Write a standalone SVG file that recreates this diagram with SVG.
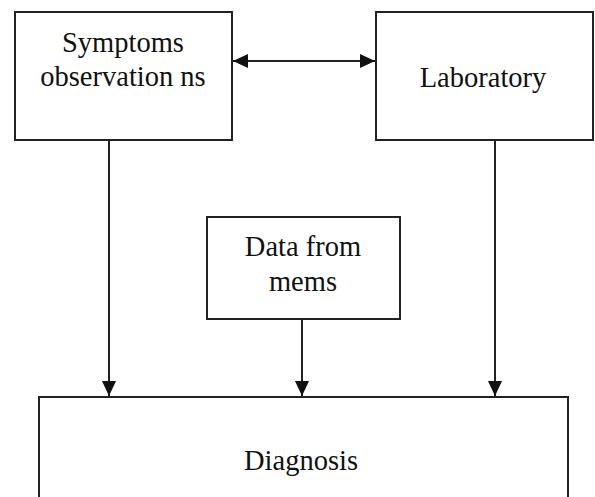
<svg xmlns="http://www.w3.org/2000/svg" width="595" height="497" viewBox="0 0 595 497">
<style>
.box{fill:#fff;stroke:#222;stroke-width:2}
.lbl{font-family:'Liberation Serif','Times New Roman','DejaVu Serif',serif;font-size:28.5px;fill:#111;text-anchor:middle}
.con{stroke:#222;stroke-width:2;fill:none}
</style>
<defs>
<marker id="ah" markerUnits="userSpaceOnUse" markerWidth="16" markerHeight="14" refX="15" refY="7" orient="auto-start-reverse">
<path d="M0,0 L15,7 L0,14 Z" fill="#111"/>
</marker>
</defs>
<rect width="595" height="497" fill="#fff"/>
<g id="symptoms">
<rect class="box" x="15" y="12" width="217" height="128"/>
<text class="lbl" x="123" y="52">Symptoms</text>
<text class="lbl" x="123" y="86">observation ns</text>
</g>
<g id="laboratory">
<rect class="box" x="376" y="12" width="217" height="128"/>
<text class="lbl" x="483" y="87">Laboratory</text>
</g>
<g id="data">
<rect class="box" x="207" y="217" width="193" height="102"/>
<text class="lbl" x="303" y="256">Data from</text>
<text class="lbl" x="303" y="291">mems</text>
</g>
<g id="diagnosis">
<rect class="box" x="39" y="397" width="529" height="110"/>
<text class="lbl" x="301" y="470">Diagnosis</text>
</g>
<g id="connectors">
<line class="con" x1="233" y1="61" x2="375" y2="61" marker-start="url(#ah)" marker-end="url(#ah)"/>
<line class="con" x1="109" y1="140" x2="109" y2="396" marker-end="url(#ah)"/>
<line class="con" x1="302" y1="319" x2="302" y2="396" marker-end="url(#ah)"/>
<line class="con" x1="495" y1="140" x2="495" y2="396" marker-end="url(#ah)"/>
</g>
</svg>
